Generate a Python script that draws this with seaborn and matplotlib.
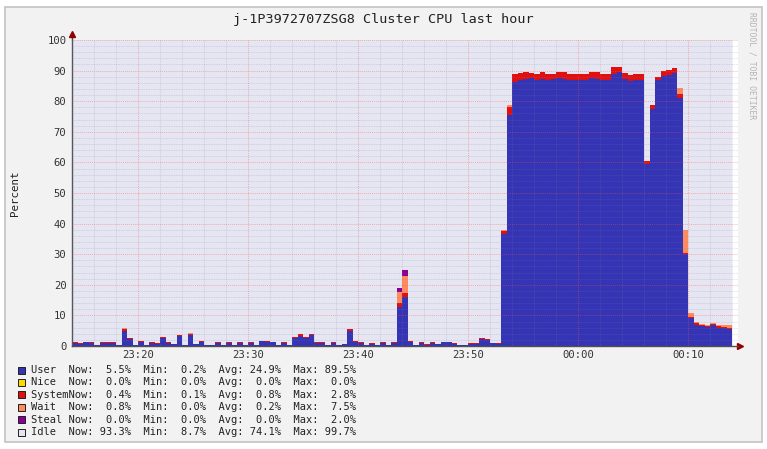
import numpy as np
import pandas as pd
import matplotlib
matplotlib.use("Agg")
import matplotlib.pyplot as plt
from matplotlib.patches import Rectangle
from matplotlib.ticker import MultipleLocator, FixedLocator, FuncFormatter
import seaborn as sns

TITLE = "j-1P3972707ZSG8 Cluster CPU last hour"
START_HOUR, START_MIN = 23, 14
STEP_MIN = 0.5

# CPU share in percent, one value per 30 seconds starting 23:14
user = [
    1.1, 0.8, 1.2, 1.1, 0.3, 1.1, 1.0, 1.0, 0.3, 5.0,
    2.4, 0.3, 1.3, 0.3, 1.1, 0.8, 2.5, 1.0, 0.6, 3.3,
    0.3, 3.6, 0.5, 1.4, 0.2, 0.2, 1.1, 0.2, 1.1, 0.2,
    1.1, 0.2, 1.0, 0.2, 1.5, 1.4, 1.2, 0.2, 1.1, 0.2,
    2.5, 3.4, 2.7, 3.5, 1.1, 1.1, 0.3, 1.1, 0.2, 0.6,
    5.0, 1.3, 1.0, 0.3, 0.8, 0.2, 1.1, 0.2, 1.1, 12.9,
    16.0, 1.3, 0.3, 1.1, 0.4, 1.1, 0.5, 1.2, 1.2, 0.8,
    0.2, 0.2, 0.8, 0.8, 2.2, 2.0, 0.9, 0.8, 36.5, 75.5,
    86.3, 87.0, 87.2, 87.6, 86.9, 87.4, 87.0, 87.2, 87.6, 87.4,
    86.9, 86.9, 86.9, 86.9, 87.5, 87.3, 86.9, 86.9, 88.8, 89.5,
    87.3, 86.7, 86.9, 86.9, 59.5, 77.5, 87.0, 88.2, 88.6, 89.2,
    81.0, 30.0, 9.0, 7.0, 6.5, 6.2, 6.8, 6.0, 5.8, 5.5,
]
nice = [0.0] * 120
system = [
    0.2, 0.2, 0.2, 0.2, 0.1, 0.2, 0.2, 0.2, 0.1, 0.6,
    0.3, 0.1, 0.2, 0.1, 0.2, 0.2, 0.3, 0.2, 0.1, 0.3,
    0.1, 0.4, 0.1, 0.2, 0.1, 0.1, 0.2, 0.1, 0.2, 0.1,
    0.2, 0.1, 0.2, 0.1, 0.2, 0.2, 0.2, 0.1, 0.2, 0.1,
    0.3, 0.4, 0.3, 0.4, 0.2, 0.2, 0.1, 0.2, 0.1, 0.1,
    0.5, 0.2, 0.2, 0.1, 0.2, 0.1, 0.2, 0.1, 0.2, 1.2,
    1.2, 0.2, 0.1, 0.2, 0.1, 0.2, 0.1, 0.2, 0.2, 0.2,
    0.1, 0.1, 0.2, 0.2, 0.5, 0.4, 0.2, 0.2, 1.0, 2.6,
    2.5, 2.3, 2.2, 1.6, 2.0, 2.3, 1.9, 1.6, 2.0, 2.2,
    2.0, 2.0, 2.0, 2.1, 2.1, 2.1, 2.0, 2.0, 2.4, 1.8,
    1.9, 2.0, 2.0, 1.9, 0.8, 1.2, 1.0, 1.8, 1.7, 1.7,
    1.4, 0.5, 0.4, 0.5, 0.5, 0.4, 0.4, 0.5, 0.4, 0.4,
]
wait = [
    0.0, 0.0, 0.0, 0.0, 0.0, 0.0, 0.0, 0.0, 0.0, 0.2,
    0.0, 0.0, 0.0, 0.0, 0.0, 0.0, 0.1, 0.0, 0.0, 0.0,
    0.0, 0.1, 0.0, 0.0, 0.0, 0.0, 0.0, 0.0, 0.0, 0.0,
    0.0, 0.0, 0.0, 0.0, 0.0, 0.0, 0.0, 0.0, 0.0, 0.0,
    0.0, 0.0, 0.0, 0.0, 0.0, 0.0, 0.0, 0.0, 0.0, 0.0,
    0.2, 0.0, 0.0, 0.0, 0.0, 0.0, 0.0, 0.0, 0.0, 3.7,
    5.8, 0.2, 0.0, 0.0, 0.0, 0.0, 0.0, 0.0, 0.0, 0.0,
    0.0, 0.0, 0.0, 0.0, 0.0, 0.0, 0.0, 0.0, 0.3, 0.5,
    0.0, 0.0, 0.0, 0.0, 0.0, 0.0, 0.0, 0.0, 0.0, 0.0,
    0.0, 0.0, 0.0, 0.0, 0.0, 0.0, 0.0, 0.0, 0.0, 0.0,
    0.0, 0.0, 0.0, 0.0, 0.3, 0.0, 0.0, 0.0, 0.0, 0.0,
    2.0, 7.5, 1.5, 0.3, 0.2, 0.2, 0.2, 0.2, 0.5, 0.8,
]
steal = [
    0.0, 0.0, 0.0, 0.0, 0.0, 0.0, 0.0, 0.0, 0.0, 0.0,
    0.0, 0.0, 0.0, 0.0, 0.0, 0.0, 0.0, 0.0, 0.0, 0.0,
    0.0, 0.0, 0.0, 0.0, 0.0, 0.0, 0.0, 0.0, 0.0, 0.0,
    0.0, 0.0, 0.0, 0.0, 0.0, 0.0, 0.0, 0.0, 0.0, 0.0,
    0.0, 0.0, 0.0, 0.0, 0.0, 0.0, 0.0, 0.0, 0.0, 0.0,
    0.0, 0.0, 0.0, 0.0, 0.0, 0.0, 0.0, 0.0, 0.0, 1.1,
    2.0, 0.0, 0.0, 0.0, 0.0, 0.0, 0.0, 0.0, 0.0, 0.0,
    0.0, 0.0, 0.0, 0.0, 0.0, 0.0, 0.0, 0.0, 0.0, 0.0,
    0.0, 0.0, 0.0, 0.0, 0.0, 0.0, 0.0, 0.0, 0.0, 0.0,
    0.0, 0.0, 0.0, 0.0, 0.0, 0.0, 0.0, 0.0, 0.0, 0.0,
    0.0, 0.0, 0.0, 0.0, 0.0, 0.0, 0.0, 0.0, 0.0, 0.0,
    0.0, 0.0, 0.0, 0.0, 0.0, 0.0, 0.0, 0.0, 0.0, 0.0,
]

SERIES = ["User", "Nice", "System", "Wait", "Steal", "Idle"]
COLORS = ["#3434b4", "#ffd800", "#e01010", "#ff8a5c", "#8a0096", "#e6e6f2"]
LEGEND_LABELS = ["User", "Nice", "System", "Wait", "Steal ", "Idle"]
LEG_NOW = [5.5, 0.0, 0.4, 0.8, 0.0, 93.3]
LEG_MIN = [0.2, 0.0, 0.1, 0.0, 0.0, 8.7]
LEG_AVG = [24.9, 0.0, 0.8, 0.2, 0.0, 74.1]
LEG_MAX = [89.5, 0.0, 2.8, 7.5, 2.0, 99.7]

W, H = 767, 449
MONO = "DejaVu Sans Mono"


def build_frame():
    busy = np.array([user, nice, system, wait, steal])
    idle = 100 - busy.sum(axis=0)
    minutes = np.arange(len(user)) * STEP_MIN + STEP_MIN / 2
    rows = []
    for name, vals in zip(SERIES, list(busy) + [idle]):
        rows.append(pd.DataFrame({"minute": minutes, "series": name, "value": vals}))
    return pd.concat(rows, ignore_index=True)


def fmt_time(m, _pos=None):
    total = START_HOUR * 60 + START_MIN + int(round(m))
    return f"{(total // 60) % 24:02d}:{total % 60:02d}"


def main():
    sns.set_style("white")
    plt.rcParams["font.family"] = [MONO, "DejaVu Sans"]

    df = build_frame()
    n = len(user)
    edges = (np.arange(n + 1) * STEP_MIN).tolist()

    fig = plt.figure(figsize=(W / 100, H / 100), dpi=100)
    fig.patch.set_facecolor("white")
    fig.add_artist(Rectangle((5 / W, 1 - 442 / H), 757 / W, 435 / H,
                             transform=fig.transFigure, facecolor="#f2f2f2",
                             edgecolor="#c2c2c2", linewidth=1.2, zorder=-10))

    ax = fig.add_axes([72 / W, (H - 346) / H, 665.5 / W, 306 / H])
    ax.set_facecolor("white")

    sns.histplot(
        data=df, x="minute", weights="value", hue="series",
        hue_order=SERIES[::-1], palette=dict(zip(SERIES, COLORS)),
        multiple="stack", element="step", bins=edges, alpha=1,
        linewidth=0, legend=False, ax=ax,
    )

    ax.set_xlim(0, n * STEP_MIN + 0.5)
    ax.set_ylim(0, 100)

    first_major = (10 - START_MIN % 10) % 10
    ax.xaxis.set_major_locator(FixedLocator(np.arange(first_major, n * STEP_MIN + 0.1, 10)))
    ax.xaxis.set_minor_locator(MultipleLocator(2))
    ax.xaxis.set_major_formatter(FuncFormatter(fmt_time))
    ax.yaxis.set_major_locator(MultipleLocator(10))
    ax.yaxis.set_minor_locator(MultipleLocator(2))

    ax.set_axisbelow(False)
    ax.grid(which="major", color="#ff5050", alpha=0.4, linestyle=(0, (1, 1)), linewidth=0.7)
    ax.grid(which="minor", color="#8080a0", alpha=0.3, linestyle=(0, (1, 1)), linewidth=0.6)

    ax.tick_params(axis="both", which="major", length=0, labelsize=7.6,
                   labelcolor="#333333", pad=4)
    ax.tick_params(axis="both", which="minor", length=0)
    ax.tick_params(axis="x", pad=3)

    for side in ["top", "right"]:
        ax.spines[side].set_visible(False)
    for side in ["left", "bottom"]:
        ax.spines[side].set_color("#505050")
        ax.spines[side].set_linewidth(1.0)

    # rrdtool style arrow heads on both axes
    ax.plot([0, 0], [1, 1.02], transform=ax.transAxes, clip_on=False,
            color="#505050", lw=1.0)
    ax.plot(0, 1.02, marker="^", markersize=4, color="#900000",
            transform=ax.transAxes, clip_on=False)
    ax.plot([1, 1.004], [0, 0], transform=ax.transAxes, clip_on=False,
            color="#505050", lw=1.0)
    ax.plot(1.004, 0, marker=">", markersize=4, color="#900000",
            transform=ax.transAxes, clip_on=False)

    ax.set_xlabel("")
    ax.set_ylabel("Percent", fontsize=7.8, color="#222222", labelpad=20)

    fig.text(0.5, 1 - 19 / H, TITLE, ha="center", va="center",
             fontsize=9.7, color="#222222", family=MONO)
    fig.text(752 / W, 1 - 66 / H, "RRDTOOL / TOBI OETIKER", rotation=270,
             ha="center", va="center", fontsize=5.8, color="#b4b4b4", family=MONO)

    for j, (label, color) in enumerate(zip(LEGEND_LABELS, COLORS)):
        y = 370 + 12.4 * j
        fig.add_artist(Rectangle((18 / W, 1 - (y + 3.5) / H), 7 / W, 7 / H,
                                 transform=fig.transFigure, facecolor=color,
                                 edgecolor="#202020", linewidth=0.7))
        line = (f"{label:<6}Now:{LEG_NOW[j]:5.1f}%  Min:{LEG_MIN[j]:5.1f}%  "
                f"Avg:{LEG_AVG[j]:5.1f}%  Max:{LEG_MAX[j]:5.1f}%")
        fig.text(31 / W, 1 - y / H, line, ha="left", va="center",
                 fontsize=7.5, color="#222222", family=MONO)

    fig.savefig("out.png", dpi=100)
    plt.close(fig)


if __name__ == "__main__":
    main()
